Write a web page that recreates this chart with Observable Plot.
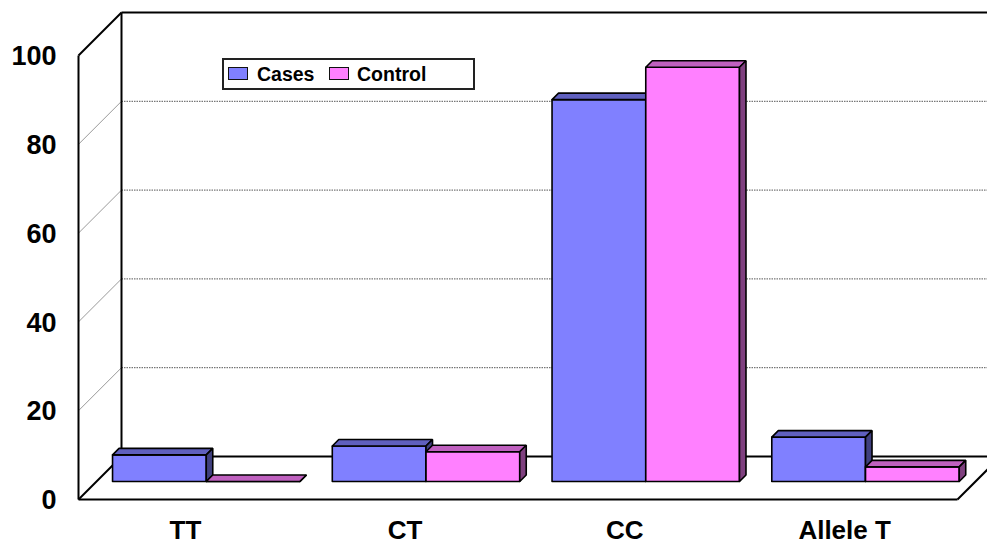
<!DOCTYPE html>
<html>
<head>
<meta charset="utf-8">
<script src="https://cdn.jsdelivr.net/npm/d3@7"></script>
<script src="https://cdn.jsdelivr.net/npm/@observablehq/plot@0.6"></script>
<style>
  html, body { margin: 0; padding: 0; background: #fff; overflow: hidden; }
  #chart { position: relative; width: 987px; height: 544px; font-family: "Liberation Sans", Arial, sans-serif; }
  .legend { position: absolute; left: 222px; top: 58px; width: 249px; height: 28px; border: 2px solid #222; background: #fff; font-weight: bold; font-size: 19.5px; color: #000; }
  .legend .sw { position: absolute; top: 7px; width: 20px; height: 13px; box-sizing: border-box; border: 1.5px solid #111; }
  .legend .lab { position: absolute; top: 0; line-height: 28px; }
</style>
</head>
<body>
<div id="chart"></div>
<script>
// Genotype and allele frequencies (%)
const categories = ["TT", "CT", "CC", "Allele T"];
const cases = [6, 8, 86, 10];
const control = [0, 6.7, 93.3, 3.3];
const seriesNames = ["Cases", "Control"];
const yTicks = [0, 20, 40, 60, 80, 100];
const gridValues = [20, 40, 60, 80];

// Face colours for each series: front, top (shaded), side (darker)
const palette = {
  Cases:   { front: "#8080FF", top: "#6060BF", side: "#40407F" },
  Control: { front: "#FF80FF", top: "#BF60BF", side: "#7F407F" }
};

const width = 987, height = 544;
const margin = { top: 37, right: 12, bottom: 63, left: 96 };
const pxPerX = (width - margin.left - margin.right) / categories.length;
const pxPerY = (height - margin.top - margin.bottom) / 100;

// Oblique projection: depth z (in pixels) shifts a point right and up.
const px = (x, z) => x + z / pxPerX;
const py = (y, z) => y + z / pxPerY;
const FRONT = -18, BACK = 25, BAR_DEPTH = 6.5;
const GAP = 0.073, BAR_W = 0.4265;
const nCat = categories.length;

// Bar faces as closed polygons, in drawing order
const faces = [];
categories.forEach((cat, i) => {
  seriesNames.forEach((s, j) => {
    const v = (j === 0 ? cases : control)[i];
    const x1 = i + GAP + j * BAR_W, x2 = x1 + BAR_W, d = BAR_DEPTH;
    const polys = {
      front: [[x1, 0, 0], [x2, 0, 0], [x2, v, 0], [x1, v, 0]],
      top:   [[x1, v, 0], [x2, v, 0], [x2, v, d], [x1, v, d]],
      side:  [[x2, 0, 0], [x2, 0, d], [x2, v, d], [x2, v, 0]]
    };
    for (const [face, pts] of Object.entries(polys)) {
      const id = `${cat}-${s}-${face}`;
      [...pts, pts[0]].forEach(([x, y, z]) =>
        faces.push({ id, x: px(x, z), y: py(y, z), fill: palette[s][face] }));
    }
  });
});

// Box outline: left wall, back wall top edge and floor
const seg = (a, b) => ({ x1: px(a[0], a[2]), y1: py(a[1], a[2]), x2: px(b[0], b[2]), y2: py(b[1], b[2]) });
const outline = [
  seg([0, 0, FRONT], [0, 100, FRONT]),
  seg([0, 100, FRONT], [0, 100, BACK]),
  seg([0, 0, BACK], [0, 100, BACK]),
  seg([0, 0, FRONT], [0, 0, BACK]),
  seg([0, 100, BACK], [nCat, 100, BACK]),
  seg([0, 0, FRONT], [nCat, 0, FRONT]),
  seg([nCat, 0, FRONT], [nCat, 0, BACK]),
  seg([0, 0, BACK], [nCat, 0, BACK])
];
const sideGrid = gridValues.map(v => seg([0, v, FRONT], [0, v, BACK]));
const backGrid = gridValues.map(v => seg([0, v, BACK], [nCat, v, BACK]));

const chart = Plot.plot({
  width, height,
  marginTop: margin.top, marginRight: margin.right,
  marginBottom: margin.bottom, marginLeft: margin.left,
  x: { domain: [0, nCat], axis: null },
  y: { domain: [0, 100], axis: null },
  color: { type: "identity" },
  style: { background: "white", fontFamily: "'Liberation Sans', Arial, sans-serif", overflow: "hidden" },
  marks: [
    Plot.link(sideGrid, { x1: "x1", y1: "y1", x2: "x2", y2: "y2", stroke: "#9a9a9a", strokeWidth: 1 }),
    Plot.link(backGrid, { x1: "x1", y1: "y1", x2: "x2", y2: "y2", stroke: "#555", strokeWidth: 1, strokeDasharray: "1.5,1" }),
    Plot.link(outline, { x1: "x1", y1: "y1", x2: "x2", y2: "y2", stroke: "#000", strokeWidth: 2 }),
    Plot.line(faces, { x: "x", y: "y", z: "id", fill: "fill", stroke: "#000", strokeWidth: 1.6, strokeLinejoin: "miter", curve: "linear" }),
    Plot.text(yTicks, {
      x: () => px(0, FRONT), y: d => py(d, FRONT), text: d => String(d),
      textAnchor: "end", dx: -22, dy: 1, fontSize: 27, fontWeight: "bold", fill: "#000"
    }),
    Plot.text(categories, {
      x: (d, i) => px(i + 0.5, FRONT), y: () => py(0, FRONT), text: d => d,
      dx: -3, dy: 31, fontSize: 26, fontWeight: "bold", fill: "#000"
    })
  ]
});

const root = document.getElementById("chart");
root.appendChild(chart);

// Legend box inside the plot area
const legend = document.createElement("div");
legend.className = "legend";
const items = [
  { name: seriesNames[0], color: palette.Cases.front, sw: 4, lab: 33 },
  { name: seriesNames[1], color: palette.Control.front, sw: 105, lab: 133 }
];
for (const it of items) {
  const sw = document.createElement("span");
  sw.className = "sw";
  sw.style.left = it.sw + "px";
  sw.style.background = it.color;
  const lab = document.createElement("span");
  lab.className = "lab";
  lab.style.left = it.lab + "px";
  lab.textContent = it.name;
  legend.append(sw, lab);
}
root.appendChild(legend);
</script>
</body>
</html>
